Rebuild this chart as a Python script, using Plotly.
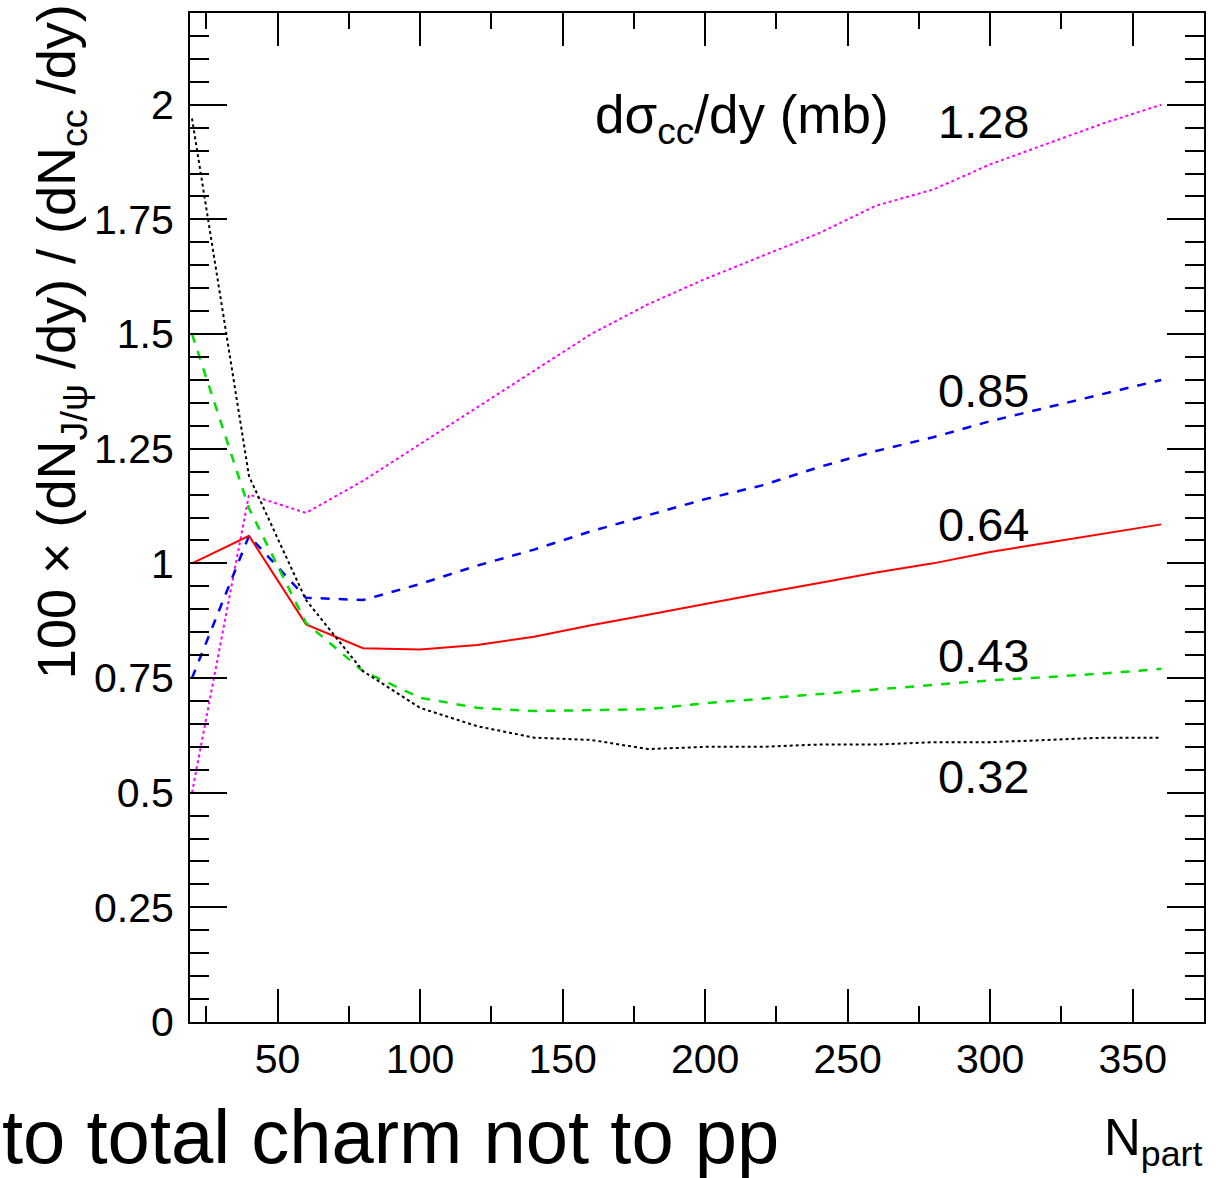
import plotly.graph_objects as go

# N_part values (nodes of the calculation)
npart = [20, 40, 60, 80, 100, 120, 140, 160, 180, 200, 220, 240, 260, 280, 300, 320, 340, 360]

# 100 x (dN_J/psi/dy)/(dN_cc/dy) for each d sigma_cc/dy (mb)
ratio_128 = [0.50, 1.15, 1.11, 1.18, 1.26, 1.34, 1.42, 1.50, 1.565, 1.62, 1.67, 1.72, 1.78, 1.815, 1.87, 1.915, 1.96, 2.00]
ratio_085 = [0.75, 1.06, 0.925, 0.92, 0.955, 0.995, 1.03, 1.07, 1.105, 1.14, 1.17, 1.21, 1.245, 1.275, 1.31, 1.34, 1.37, 1.40]
ratio_064 = [1.00, 1.06, 0.867, 0.815, 0.812, 0.822, 0.84, 0.865, 0.888, 0.912, 0.935, 0.957, 0.98, 1.00, 1.025, 1.045, 1.065, 1.085]
ratio_043 = [1.50, 1.12, 0.87, 0.765, 0.707, 0.685, 0.678, 0.68, 0.682, 0.695, 0.705, 0.715, 0.725, 0.735, 0.745, 0.752, 0.76, 0.77]
ratio_032 = [1.97, 1.19, 0.92, 0.765, 0.685, 0.645, 0.62, 0.615, 0.595, 0.60, 0.60, 0.605, 0.605, 0.61, 0.61, 0.615, 0.62, 0.62]

labels = ["1.28", "0.85", "0.64", "0.43", "0.32"]
label_y = [1.963, 1.376, 1.085, 0.80, 0.535]

series = [ratio_128, ratio_085, ratio_064, ratio_043, ratio_032]
colors = ["#ff00ff", "#0000ff", "#ff0000", "#00dd00", "#000000"]
dashes = ["dot", "dash", "solid", "dash", "dot"]
widths = [2, 2.5, 2, 2.5, 2]

FONT = "Liberation Sans, Arial, Helvetica, sans-serif"

fig = go.Figure()
for y, c, d, w, name in zip(series, colors, dashes, widths, labels):
    fig.add_trace(go.Scatter(x=npart, y=y, mode="lines",
                             line=dict(color=c, dash=d, width=w),
                             name=name, showlegend=False))

for lab, ly in zip(labels, label_y):
    fig.add_annotation(x=281.0, y=ly, xref="x", yref="y", text=lab,
                       showarrow=False, xanchor="left", yanchor="middle",
                       font=dict(size=47, color="black", family=FONT))

fig.add_annotation(x=213, y=1.97, xref="x", yref="y",
                   text="dσ<sub>cc</sub>/dy (mb)", showarrow=False,
                   xanchor="center", yanchor="middle",
                   font=dict(size=53, color="black", family=FONT))

# y-axis title placed near the top of the axis
fig.add_annotation(x=-0.128, y=0.674, xref="paper", yref="paper",
                   text="100 × (dN<sub>J/ψ</sub> /dy) / (dN<sub>cc</sub> /dy)",
                   textangle=-90, showarrow=False, xanchor="center", yanchor="middle",
                   font=dict(size=54, color="black", family=FONT))

# x-axis title at the right end
fig.add_annotation(x=1.0, y=-0.118, xref="paper", yref="paper",
                   text="N<sub>part</sub>", showarrow=False,
                   xanchor="right", yanchor="middle",
                   font=dict(size=51, color="black", family=FONT))

# bottom caption text
fig.add_annotation(x=-0.187, y=-0.113, xref="paper", yref="paper",
                   text="to total charm not to pp", showarrow=False,
                   xanchor="left", yanchor="middle",
                   font=dict(size=76, color="black", family=FONT))

fig.update_xaxes(range=[19.3, 375], showline=True, linecolor="black", linewidth=2,
                 mirror="ticks", ticks="inside", ticklen=33, tickwidth=2, tickcolor="black",
                 dtick=50, tick0=0, showgrid=False, zeroline=False,
                 tickfont=dict(size=41, color="black", family=FONT),
                 ticklabelstandoff=0,
                 minor=dict(dtick=25, tick0=0, ticks="inside", ticklen=16, tickwidth=2,
                            tickcolor="black", showgrid=False))
fig.update_yaxes(range=[0, 2.2], showline=True, linecolor="black", linewidth=2,
                 mirror="ticks", ticks="inside", ticklen=37, tickwidth=2, tickcolor="black",
                 dtick=0.25, tick0=0, showgrid=False, zeroline=False,
                 tickfont=dict(size=41, color="black", family=FONT),
                 ticklabelstandoff=6,
                 minor=dict(dtick=0.05, tick0=0, ticks="inside", ticklen=19, tickwidth=2,
                            tickcolor="black", showgrid=False))

fig.update_layout(width=1218, height=1178,
                  margin=dict(l=190, r=14, t=11, b=156),
                  paper_bgcolor="white", plot_bgcolor="white",
                  font=dict(family=FONT, color="black"))

fig.write_html("out.html")
